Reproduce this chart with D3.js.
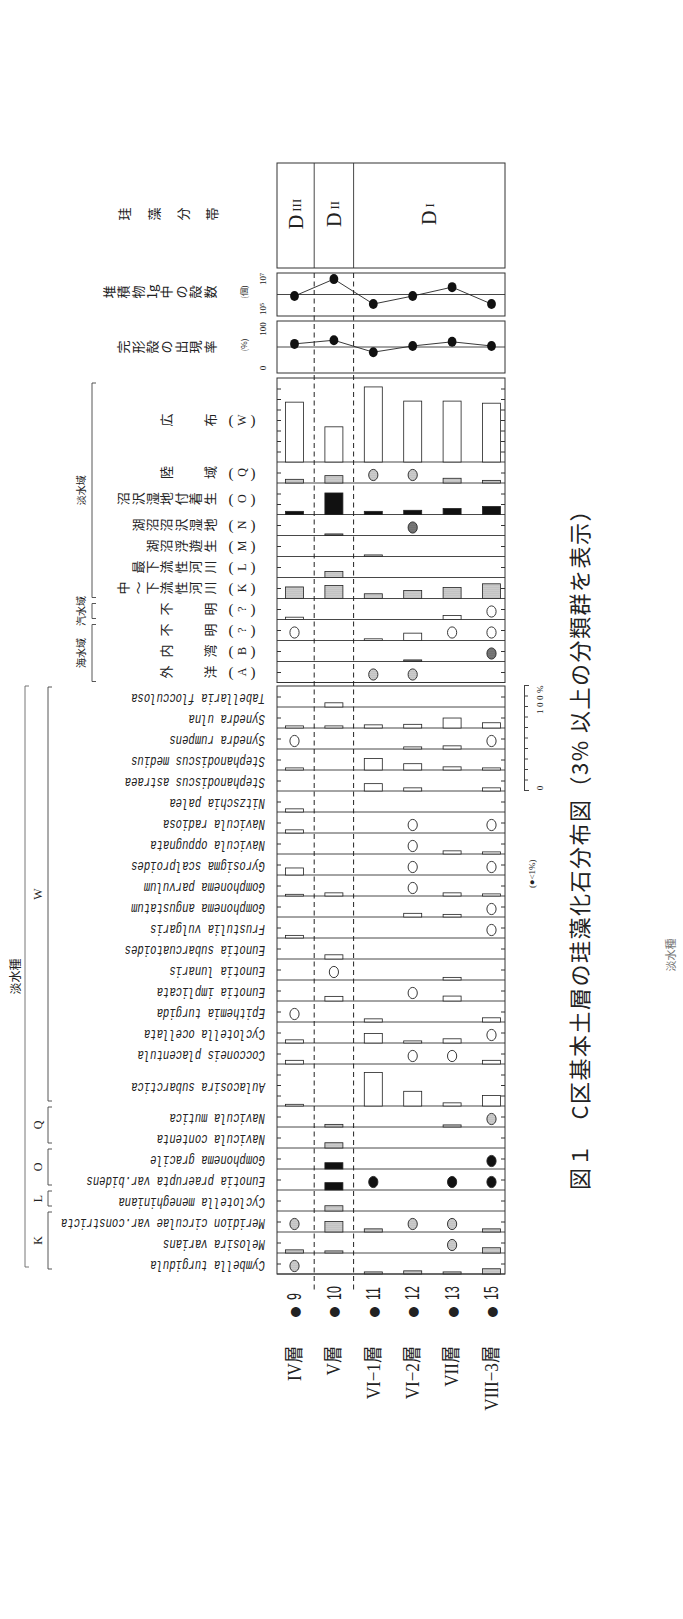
<!DOCTYPE html>
<html>
<head>
<meta charset="utf-8">
<script src="https://cdnjs.cloudflare.com/ajax/libs/d3/7.8.5/d3.min.js"></script>
<style>
body { margin: 0; background: #fff; }
text { fill: #222; }
.frame { fill: none; stroke: #333; stroke-width: 1; }
.rule { stroke: #333; stroke-width: 0.9; }
.ticks path { display: none; }
.ticks line { stroke: #333; }
</style>
</head>
<body>
<svg id="chart" width="683" height="1619"></svg>
<script>
// samples (left to right) and layer names
var samples = ["9", "10", "11", "12", "13", "15"];
var layers = ["IV層", "V層", "VI−1層", "VI−2層", "VII層", "VIII−3層"];

// diatom zones
var zoneNames = ["DIII", "DII", "DI"];
var zoneLast = [0, 1, 5];

// valves per 1 g of sediment, and rate of complete valves (%)
var valveCount = [8.5e5, 5.2e6, 3.6e5, 8.5e5, 2.2e6, 3.6e5];
var wholeRate = [56, 63, 40, 52, 60, 52];

// ecological groups (%), 0.5 = present below 1%
var ecoCodes = ["W", "Q", "O", "N", "M", "L", "K", "?", "?", "B", "A"];
var ecoNames = ["広布", "陸域", "沼沢湿地付着生", "湖沼沼沢湿地", "湖沼浮遊生", "最下流性河川",
  "中～下流性河川", "不明", "不明", "内湾", "外洋"];
var ecoFill = ["open", "stip", "black", "dark", "stip", "stip", "stip", "open", "open", "dark", "stip"];
var ecoValues = [
  [57, 33.5, 71.5, 58, 58, 56],
  [3.5, 7, 0.5, 0.5, 4.5, 2.5],
  [3, 20.5, 3, 4, 5.7, 7.6],
  [0, 1.5, 0, 0.5, 0, 0],
  [0, 0, 1.5, 0, 0, 0],
  [0, 5.7, 0, 0, 0, 0],
  [11, 12.4, 4.5, 7.6, 10.5, 14],
  [2.2, 0, 0, 0, 3.8, 0.5],
  [0.5, 0, 1.6, 7, 0.5, 0.5],
  [0, 0, 0, 1.5, 0, 0.5],
  [0, 0, 0.5, 0.5, 0, 0]
];
var habitatNames = ["淡水域", "汽水域", "海水域"];
var habitatFirst = [0, 7, 8];
var habitatLast = [6, 7, 10];

// species (%), 0.5 = present below 1%
var speciesNames = ["Tabellaria flocculosa", "Synedra ulna", "Synedra rumpens", "Stephanodiscus medius",
  "Stephanodiscus astraea", "Nitzschia palea", "Navicula radiosa", "Navicula oppugnata",
  "Gyrosigma scalproides", "Gomphonema parvulum", "Gomphonema angustatum", "Frustulia vulgaris",
  "Eunotia subarcuatoides", "Eunotia lunaris", "Eunotia implicata", "Epithemia turgida",
  "Cyclotella ocellata", "Cocconeis placentula", "Aulacosira subarctica", "Navicula mutica",
  "Navicula contenta", "Gomphonema gracile", "Eunotia praerupta var.bidens", "Cyclotella meneghiniana",
  "Meridion circulae var.constricta", "Melosira varians", "Cymbella turgidula"];
var speciesGroup = ["W", "W", "W", "W", "W", "W", "W", "W", "W", "W", "W", "W", "W", "W", "W", "W", "W", "W", "W",
  "Q", "Q", "O", "O", "L", "K", "K", "K"];
var speciesValues = [
  [0, 4, 0, 0, 0, 0],
  [2, 2, 3, 3.5, 9.5, 5],
  [0.5, 0, 0, 2, 3, 0.5],
  [2, 0, 11, 6, 3, 2],
  [0, 0, 7, 3, 0, 3],
  [3, 0, 0, 0, 0, 0],
  [3, 0, 0, 0.5, 0, 0.5],
  [0, 0, 0, 0.5, 3, 2],
  [6.7, 0, 0, 0.5, 0, 0.5],
  [1.6, 3, 0, 0.5, 3, 2],
  [0, 0, 0, 3.5, 2.5, 0.5],
  [2.5, 0, 0, 0, 0, 0.5],
  [0, 4, 0, 0, 0, 0],
  [0, 0.5, 0, 0, 2.5, 0],
  [0, 4.4, 0, 0.5, 4.7, 0],
  [0.5, 0, 3, 0, 0, 4],
  [3, 0, 9, 2, 4, 0.5],
  [3.5, 0, 0, 0.5, 0.5, 3.5],
  [1.6, 0, 32, 14, 3, 10],
  [0, 2.5, 0, 0, 2, 0.5],
  [0, 5, 0, 0, 0, 0],
  [0, 6, 0, 0, 0, 0.5],
  [0, 7, 0.5, 0, 0.5, 0.5],
  [0, 5, 0, 0, 0, 0],
  [0.5, 10, 3, 0.5, 0.5, 3],
  [3, 2, 0, 0, 0.5, 5],
  [0.5, 0, 2, 3, 2, 5]
];
var groupCodes = ["W", "Q", "O", "L", "K"];
var groupFill = {W: "open", Q: "stip", O: "black", L: "stip", K: "stip"};

var jp = "'Noto Sans CJK JP', sans-serif";
var serif = "'Liberation Serif', 'Noto Sans CJK JP', serif";

var svg = d3.select("#chart");
var left = 277, right = 505;
var pxPerPct = 1.05;
var barW = 18;

var x = d3.scalePoint().domain(samples).range([294.5, 491.5]);

// stipple patterns
var defs = svg.append("defs");
function stipple(id, bg, dot) {
  var p = defs.append("pattern").attr("id", id)
    .attr("width", 2).attr("height", 2).attr("patternUnits", "userSpaceOnUse");
  p.append("rect").attr("width", 2).attr("height", 2).attr("fill", bg);
  p.append("circle").attr("cx", 1).attr("cy", 1).attr("r", 0.55).attr("fill", dot);
}
stipple("stip", "#e2e2e2", "#666");
stipple("dark", "#8a8a8a", "#222");
var fills = {open: "#fff", stip: "url(#stip)", dark: "url(#dark)", black: "#111"};

// rotated text helper
function rtext(g, px, py, str, size, family, angle, anchor) {
  return g.append("text")
    .attr("transform", "translate(" + px + "," + py + ") rotate(" + (angle == null ? -90 : angle) + ")")
    .attr("text-anchor", anchor || "middle")
    .attr("dominant-baseline", "central")
    .style("font-size", size + "px")
    .style("font-family", family || jp)
    .text(str);
}
// one character at a time, like vertical Japanese turned sideways
function charRow(g, chars, py, size, xs) {
  var n = chars.length;
  chars.forEach(function(c, i) {
    var px = xs ? xs[i] : (n == 2 ? (i == 0 ? 165 : 209) : 209 - (n - 1 - i) * 14.4);
    rtext(g, px, py, c, size);
  });
}

var boundaries = zoneLast.slice(0, -1).map(function(i) {
  return (x(samples[i]) + x(samples[i + 1])) / 2;
});

// ---- zone box ----
var gz = svg.append("g");
gz.append("rect").attr("class", "frame").attr("x", left).attr("y", 163)
  .attr("width", right - left).attr("height", 105);
boundaries.forEach(function(b) {
  gz.append("line").attr("class", "rule").attr("x1", b).attr("x2", b).attr("y1", 163).attr("y2", 268);
});
zoneNames.forEach(function(z, i) {
  var x0 = i == 0 ? left : boundaries[i - 1];
  var x1 = i == zoneNames.length - 1 ? right : boundaries[i];
  var t = rtext(gz, (x0 + x1) / 2, 214, "", 20, serif);
  t.append("tspan").text(z.charAt(0));
  t.append("tspan").style("font-size", "13px").attr("dx", 3).text(z.slice(1));
});
charRow(gz, ["珪", "藻", "分", "帯"], 214, 13, [123, 153, 182, 211]);

// ---- valve count (log) ----
var cy = d3.scaleLog().domain([1e5, 1e7]).range([316, 273]);
var gc = svg.append("g");
gc.append("rect").attr("class", "frame").attr("x", left).attr("y", 273).attr("width", right - left).attr("height", 43);
gc.append("line").attr("class", "rule").attr("x1", left).attr("x2", right).attr("y1", cy(1e6)).attr("y2", cy(1e6));
gc.append("path").datum(valveCount)
  .attr("fill", "none").attr("stroke", "#222").attr("stroke-width", 0.9)
  .attr("d", d3.line().x(function(d, i) { return x(samples[i]); }).y(function(d) { return cy(d); }));
gc.selectAll("ellipse").data(valveCount).enter().append("ellipse")
  .attr("cx", function(d, i) { return x(samples[i]); }).attr("cy", function(d) { return cy(d); })
  .attr("rx", 4.4).attr("ry", 5).attr("fill", "#111");
charRow(gc, ["堆", "積", "物", "1g", "中", "の", "殻", "数"], 292, 13);
rtext(gc, 243, 292, "(個)", 8);
rtext(gc, 263, cy(1e7) + 6, "10⁷", 9, serif);
rtext(gc, 263, cy(1e5) - 7, "10⁵", 9, serif);

// ---- complete valve rate ----
var py = d3.scaleLinear().domain([0, 100]).range([373, 321]);
var gp = svg.append("g");
gp.append("rect").attr("class", "frame").attr("x", left).attr("y", 321).attr("width", right - left).attr("height", 52);
gp.append("line").attr("class", "rule").attr("x1", left).attr("x2", right).attr("y1", py(50)).attr("y2", py(50));
gp.append("path").datum(wholeRate)
  .attr("fill", "none").attr("stroke", "#222").attr("stroke-width", 0.9)
  .attr("d", d3.line().x(function(d, i) { return x(samples[i]); }).y(function(d) { return py(d); }));
gp.selectAll("ellipse").data(wholeRate).enter().append("ellipse")
  .attr("cx", function(d, i) { return x(samples[i]); }).attr("cy", function(d) { return py(d); })
  .attr("rx", 4.4).attr("ry", 5).attr("fill", "#111");
charRow(gp, ["完", "形", "殻", "の", "出", "現", "率"], 347, 13);
rtext(gp, 243, 345, "(%)", 8);
rtext(gp, 263, py(100) + 8, "100", 9, serif);
rtext(gp, 263, py(0) - 5, "0", 9, serif);

// ---- stacked row panels ----
function layoutRows(values, top) {
  var rows = [], y0 = top;
  values.forEach(function(v, i) {
    var m = Math.max(20, (Math.floor(d3.max(v) / 10) + 1) * 10);
    var h = m * pxPerPct;
    rows.push({i: i, vals: v, max: m, top: y0, bottom: y0 + h,
      y: d3.scaleLinear().domain([0, m]).range([y0 + h, y0])});
    y0 += h;
  });
  return rows;
}

function drawPanel(rows, fillOf) {
  var g = svg.append("g");
  var top = rows[0].top, bottom = rows[rows.length - 1].bottom;
  rows.forEach(function(r) {
    var tv = d3.range(10, r.max, 10);
    g.append("g").attr("class", "ticks").attr("transform", "translate(" + left + ",0)")
      .call(d3.axisLeft(r.y).tickValues(tv).tickSize(-4).tickFormat(""));
    g.append("g").attr("class", "ticks").attr("transform", "translate(" + right + ",0)")
      .call(d3.axisRight(r.y).tickValues(tv).tickSize(-4).tickFormat(""));
    g.append("line").attr("class", "rule").attr("x1", left).attr("x2", right)
      .attr("y1", r.bottom).attr("y2", r.bottom);
    var pts = r.vals.map(function(v, j) { return {s: samples[j], v: v}; });
    var f = fills[fillOf(r.i)];
    g.selectAll(null).data(pts.filter(function(d) { return d.v >= 1; })).enter().append("rect")
      .attr("x", function(d) { return x(d.s) - barW / 2; })
      .attr("y", function(d) { return r.y(d.v); })
      .attr("width", barW)
      .attr("height", function(d) { return r.y(0) - r.y(d.v); })
      .attr("fill", f).attr("stroke", "#222").attr("stroke-width", 0.8);
    g.selectAll(null).data(pts.filter(function(d) { return d.v > 0 && d.v < 1; })).enter().append("ellipse")
      .attr("cx", function(d) { return x(d.s); })
      .attr("cy", r.bottom - 8)
      .attr("rx", 4.6).attr("ry", 5.6)
      .attr("fill", f).attr("stroke", "#222").attr("stroke-width", 0.9);
  });
  g.append("rect").attr("class", "frame").attr("x", left).attr("y", top)
    .attr("width", right - left).attr("height", bottom - top);
  return g;
}

// ecological groups
var ecoRows = layoutRows(ecoValues, 378);
var ge = drawPanel(ecoRows, function(i) { return ecoFill[i]; });
ecoRows.forEach(function(r, i) {
  var mid = (r.top + r.bottom) / 2;
  charRow(ge, Array.from(ecoNames[i]), mid, 13);
  ge.append("text").attr("x", 231).attr("y", mid).attr("text-anchor", "middle")
    .attr("dominant-baseline", "central").style("font-size", "15px").style("font-family", serif).text("(");
  rtext(ge, 242, mid, ecoCodes[i], 12, serif);
  ge.append("text").attr("x", 253).attr("y", mid).attr("text-anchor", "middle")
    .attr("dominant-baseline", "central").style("font-size", "15px").style("font-family", serif).text(")");
});
habitatNames.forEach(function(h, k) {
  var y0 = ecoRows[habitatFirst[k]].top + 5, y1 = ecoRows[habitatLast[k]].bottom - 1;
  ge.append("path").attr("fill", "none").attr("stroke", "#444").attr("stroke-width", 0.9)
    .attr("d", "M96," + y0 + "H92V" + y1 + "H96");
  rtext(ge, 80, (y0 + y1) / 2, h, 10);
});

// species
var spRows = layoutRows(speciesValues, 686);
var gs = drawPanel(spRows, function(i) { return groupFill[speciesGroup[i]]; });
spRows.forEach(function(r, i) {
  gs.append("text")
    .attr("transform", "translate(265," + ((r.top + r.bottom) / 2 + 1) + ") rotate(180) scale(0.76,1)")
    .attr("dominant-baseline", "central")
    .style("font-size", "14px").style("font-style", "italic")
    .style("font-family", "'Liberation Mono', monospace")
    .text(speciesNames[i]);
});
groupCodes.forEach(function(c) {
  var idx = d3.range(speciesGroup.length).filter(function(i) { return speciesGroup[i] == c; });
  var y0 = spRows[idx[0]].top + 1, y1 = spRows[idx[idx.length - 1]].bottom - 5;
  gs.append("path").attr("fill", "none").attr("stroke", "#444").attr("stroke-width", 0.9)
    .attr("d", "M52," + y0 + "H48V" + y1 + "H52");
  rtext(gs, 38, (y0 + y1) / 2, c, 12, serif);
});
var sTop = spRows[0].top, sBot = spRows[spRows.length - 1].bottom - 7;
gs.append("path").attr("fill", "none").attr("stroke", "#666").attr("stroke-width", 0.9)
  .attr("d", "M29," + sTop + "H25V" + sBot + "H29");
rtext(gs, 14, (sTop + sBot) / 2, "淡水種", 12);

// dashed zone dividers through the panels
boundaries.forEach(function(b) {
  svg.append("line").attr("x1", b).attr("x2", b).attr("y1", 273).attr("y2", 1292)
    .attr("stroke", "#222").attr("stroke-width", 1).attr("stroke-dasharray", "5,3.5");
});

// sample and layer labels
var gb = svg.append("g");
samples.forEach(function(s, j) {
  rtext(gb, x(s), 1312, "●", 13, "'DejaVu Sans', sans-serif");
  gb.append("text")
    .attr("transform", "translate(" + x(s) + ",1300) rotate(-90) scale(0.62,1)")
    .attr("dominant-baseline", "central")
    .style("font-size", "20px").style("font-family", "'Liberation Sans', sans-serif")
    .text(s);
  gb.append("text")
    .attr("transform", "translate(" + x(s) + ",1346) rotate(-90) scale(0.9,1)")
    .attr("text-anchor", "end").attr("dominant-baseline", "central")
    .style("font-size", "19px").style("font-family", serif)
    .text(layers[j]);
});

// 100% scale bar
var sy = d3.scaleLinear().domain([0, 100]).range([790, 790 - 100 * pxPerPct]);
svg.append("g").attr("transform", "translate(524,0)")
  .call(d3.axisRight(sy).tickValues(d3.range(0, 101, 10)).tickSize(4).tickSizeOuter(5).tickFormat(""))
  .call(function(g) { g.selectAll("path, line").attr("stroke", "#444"); });
rtext(svg, 540, 788, "0", 9, serif);
rtext(svg, 540, 714, "100%", 9, serif, -90, "start").style("letter-spacing", "2.5px");
rtext(svg, 532, 888, "(●<1%)", 9, serif, -90, "start");

// title and stray label
rtext(svg, 578, 1190, "図１　C区基本土層の珪藻化石分布図（3% 以上の分類群を表示）", 22, jp, -90, "start")
  .style("letter-spacing", "1.5px");
rtext(svg, 670, 955, "淡水種", 11).style("fill", "#777");
</script>
</body>
</html>
